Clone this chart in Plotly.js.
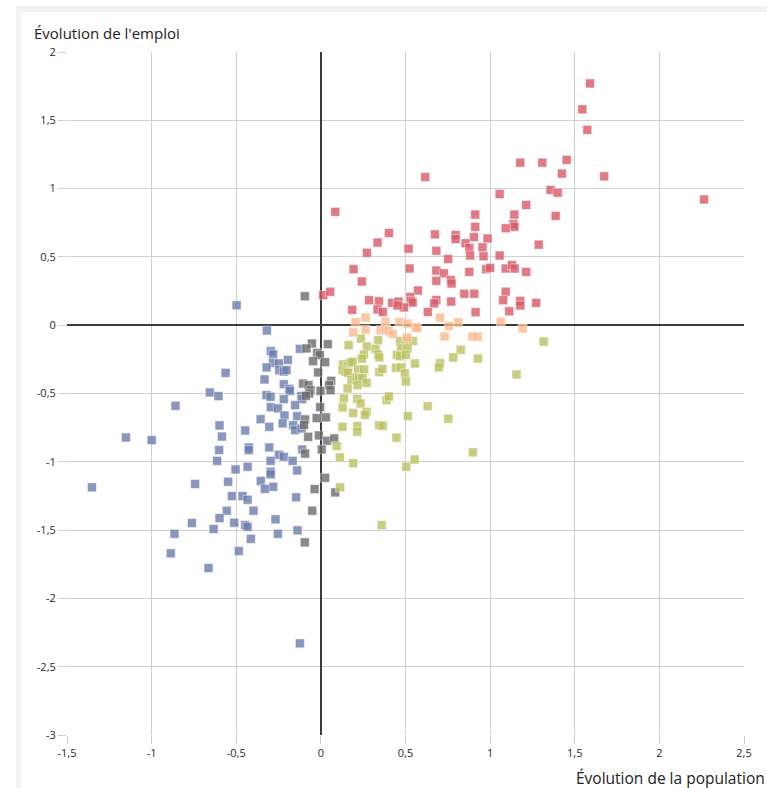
<!DOCTYPE html>
<html>
<head>
<meta charset="utf-8">
<script src="https://cdn.plot.ly/plotly-3.0.1.min.js"></script>
<style>
  html, body { margin: 0; padding: 0; background: #ffffff; width: 767px; height: 788px; overflow: hidden; }
  #frame { position: absolute; left: 16px; top: 6px; right: 0; bottom: 0;
           border-top: 6px solid #f2f2f2; border-left: 5px solid #f3f3f3; }
  #chart { position: absolute; left: 0; top: 0; width: 767px; height: 788px; }
</style>
</head>
<body>
<div id="frame"></div>
<div id="chart"></div>
<script>
// ---- Data ----
const xTickVals = [-1.5, -1, -0.5, 0, 0.5, 1, 1.5, 2, 2.5];
const xTickText = ["-1,5", "-1", "-0,5", "0", "0,5", "1", "1,5", "2", "2,5"];
const yTickVals = [-3, -2.5, -2, -1.5, -1, -0.5, 0, 0.5, 1, 1.5, 2];
const yTickText = ["-3", "-2,5", "-2", "-1,5", "-1", "-0,5", "0", "0,5", "1", "1,5", "2"];

const xTitle = "Évolution de la population";
const yTitle = "Évolution de l'emploi";

// Blue group: population decreasing
const blueX = [-0.498,-0.319,-0.296,-0.282,-0.124,-0.195,-0.282,-0.248,-0.321,-0.246,-0.219,-0.203,-0.563,-0.333,-0.219,-0.187,-0.183,-0.656,-0.605,-0.321,-0.297,-0.116,-0.110,-0.219,-0.859,-0.152,-0.296,-0.254,-0.215,-0.140,-0.356,-0.226,-0.164,-0.152,-0.114,-0.305,-0.599,-0.447,-0.585,-1.152,-1.000,-0.426,-0.426,-0.305,-0.601,-0.248,-0.219,-0.167,-0.613,-0.297,-0.504,-0.433,-0.297,-0.297,-0.140,-0.110,-1.353,-0.743,-0.548,-0.355,-0.282,-0.331,-0.526,-0.463,-0.433,-0.146,-0.556,-0.398,-0.599,-0.762,-0.634,-0.512,-0.447,-0.433,-0.268,-0.865,-0.254,-0.138,-0.414,-0.887,-0.485,-0.664,-0.124];
const blueY = [0.146,-0.039,-0.190,-0.214,-0.173,-0.254,-0.276,-0.280,-0.309,-0.329,-0.339,-0.329,-0.349,-0.397,-0.432,-0.466,-0.481,-0.492,-0.519,-0.512,-0.524,-0.519,-0.541,-0.541,-0.590,-0.585,-0.600,-0.609,-0.661,-0.666,-0.688,-0.719,-0.732,-0.768,-0.756,-0.744,-0.734,-0.771,-0.815,-0.822,-0.841,-0.895,-0.914,-0.895,-0.914,-0.949,-0.963,-0.993,-0.993,-0.993,-1.056,-1.036,-1.073,-1.092,-1.063,-0.910,-1.187,-1.163,-1.146,-1.140,-1.183,-1.198,-1.251,-1.251,-1.278,-1.260,-1.358,-1.358,-1.412,-1.448,-1.492,-1.446,-1.463,-1.476,-1.421,-1.527,-1.527,-1.502,-1.564,-1.670,-1.653,-1.778,-2.329];

// Grey group: population roughly stable
const greyX = [-0.095,-0.053,0.041,-0.085,-0.022,-0.006,-0.046,0.025,-0.016,-0.105,-0.073,-0.061,-0.069,-0.089,-0.002,0.061,0.049,0.057,-0.004,-0.025,0.030,-0.093,-0.100,-0.075,-0.012,0.037,0.079,0.005,-0.093,0.025,-0.037,0.085,-0.051,-0.095];
const greyY = [0.212,-0.134,-0.139,-0.170,-0.203,-0.219,-0.263,-0.271,-0.346,-0.427,-0.439,-0.476,-0.500,-0.517,-0.480,-0.407,-0.439,-0.476,-0.600,-0.680,-0.675,-0.690,-0.730,-0.817,-0.807,-0.846,-0.829,-0.910,-0.940,-1.117,-1.200,-1.224,-1.358,-1.590];

// Olive group: population rising, employment falling
const oliveX = [0.164,0.236,0.272,0.339,0.323,0.337,0.345,0.254,0.242,0.467,0.502,0.544,0.475,0.512,0.449,0.467,0.502,0.132,0.158,0.175,0.187,0.128,0.146,0.161,0.220,0.256,0.345,0.364,0.443,0.475,0.556,0.705,0.697,0.496,0.502,0.181,0.211,0.225,0.246,0.270,0.217,0.158,0.136,0.128,0.215,0.235,0.388,0.402,0.191,0.270,0.260,0.631,0.753,0.514,0.128,0.215,0.215,0.345,0.366,0.447,0.093,0.112,0.191,0.504,0.554,0.898,0.114,0.359,1.316,1.156,0.826,0.782,0.928];
const oliveY = [-0.146,-0.098,-0.156,-0.110,-0.173,-0.214,-0.236,-0.214,-0.246,-0.115,-0.115,-0.115,-0.170,-0.170,-0.217,-0.227,-0.217,-0.287,-0.300,-0.276,-0.268,-0.330,-0.341,-0.349,-0.324,-0.324,-0.344,-0.320,-0.312,-0.309,-0.280,-0.278,-0.309,-0.353,-0.412,-0.402,-0.383,-0.390,-0.388,-0.422,-0.439,-0.463,-0.536,-0.602,-0.539,-0.573,-0.549,-0.522,-0.642,-0.634,-0.656,-0.593,-0.685,-0.666,-0.744,-0.739,-0.780,-0.732,-0.737,-0.823,-0.885,-0.968,-1.010,-1.036,-0.983,-0.931,-1.187,-1.463,-0.120,-0.361,-0.180,-0.236,-0.244];

// Orange group: population rising, employment about stable
const orangeX = [0.264,0.205,0.382,0.465,0.512,0.560,0.569,0.703,0.756,0.811,1.063,1.192,0.191,0.264,0.353,0.384,0.400,0.424,0.510,0.731,0.894,0.926];
const orangeY = [0.056,0.022,0.027,0.024,0.012,-0.012,-0.020,0.055,-0.005,0.020,0.025,-0.024,-0.053,-0.032,-0.037,-0.032,-0.042,-0.064,-0.090,-0.083,-0.083,-0.083];

// Red group: population and employment rising
const redX = [1.590,1.545,1.574,1.178,1.308,1.452,1.424,1.674,0.617,1.357,1.399,1.056,2.264,1.213,0.085,0.912,1.143,1.387,0.912,1.138,1.143,1.092,0.402,0.674,0.796,0.796,0.904,0.985,0.335,0.855,1.287,0.955,0.877,0.518,0.272,0.682,0.882,0.961,1.056,0.752,0.193,0.524,0.682,0.727,0.877,0.977,1.000,1.092,1.129,1.145,1.213,0.242,0.682,0.768,0.772,0.573,0.847,0.906,1.092,0.014,0.055,0.285,0.343,0.421,0.459,0.528,0.532,0.542,0.492,0.453,0.682,0.670,0.770,1.077,1.178,1.178,1.272,0.185,0.335,0.366,0.632,0.914,1.113];
const redY = [1.770,1.580,1.430,1.190,1.190,1.210,1.110,1.090,1.085,0.990,0.970,0.960,0.920,0.880,0.830,0.810,0.810,0.800,0.720,0.740,0.720,0.710,0.675,0.665,0.660,0.630,0.645,0.635,0.605,0.600,0.590,0.570,0.565,0.560,0.530,0.545,0.510,0.505,0.510,0.485,0.410,0.415,0.400,0.380,0.390,0.410,0.420,0.415,0.440,0.415,0.390,0.320,0.325,0.330,0.305,0.254,0.230,0.230,0.245,0.220,0.245,0.183,0.175,0.163,0.173,0.207,0.178,0.166,0.130,0.144,0.185,0.160,0.173,0.183,0.178,0.144,0.163,0.112,0.115,0.097,0.097,0.095,0.102];

// ---- Styles ----
const FONT = '"Open Sans", "Noto Sans", sans-serif';
function series(x, y, color) {
  return {
    type: 'scatter', mode: 'markers', x: x, y: y, hoverinfo: 'skip', showlegend: false,
    marker: { symbol: 'square', size: 9, color: color, opacity: 0.8,
              line: { color: 'rgba(255,255,255,0.55)', width: 1 } }
  };
}
const traces = [
  series(blueX, blueY, 'rgb(108,126,174)'),
  series(greyX, greyY, 'rgb(108,108,108)'),
  series(oliveX, oliveY, 'rgb(188,193,96)'),
  series(orangeX, orangeY, 'rgb(252,186,140)'),
  series(redX, redY, 'rgb(216,90,104)')
];

const axisCommon = {
  showgrid: true, gridcolor: '#cfcfcf', gridwidth: 1,
  zeroline: true, zerolinecolor: '#3a3a3a', zerolinewidth: 1.6,
  showline: false, ticks: 'outside', ticklen: 8, tickcolor: '#cfcfcf', tickwidth: 1,
  tickmode: 'array', tickfont: { family: FONT, size: 11, color: '#2a2a2a' },
  fixedrange: true
};

const layout = {
  width: 767, height: 788,
  margin: { l: 67, r: 23, t: 52, b: 53, pad: 0 },
  paper_bgcolor: 'rgba(0,0,0,0)', plot_bgcolor: '#ffffff',
  font: { family: FONT, color: '#333333' },
  xaxis: Object.assign({}, axisCommon, { range: [-1.5, 2.5], tickvals: xTickVals, ticktext: xTickText }),
  yaxis: Object.assign({}, axisCommon, { range: [-3, 2], tickvals: yTickVals, ticktext: yTickText }),
  annotations: [
    { text: yTitle, xref: 'paper', yref: 'paper', x: -0.0517, y: 1.0285, xanchor: 'left', yanchor: 'middle',
      showarrow: false, font: { family: FONT, size: 15, color: '#222222' } },
    { text: xTitle, xref: 'paper', yref: 'paper', x: 1.034, y: -0.063, xanchor: 'right', yanchor: 'middle',
      showarrow: false, font: { family: FONT, size: 15.5, color: '#222222' } }
  ]
};

Plotly.newPlot('chart', traces, layout, { displayModeBar: false, staticPlot: true });
</script>
</body>
</html>
